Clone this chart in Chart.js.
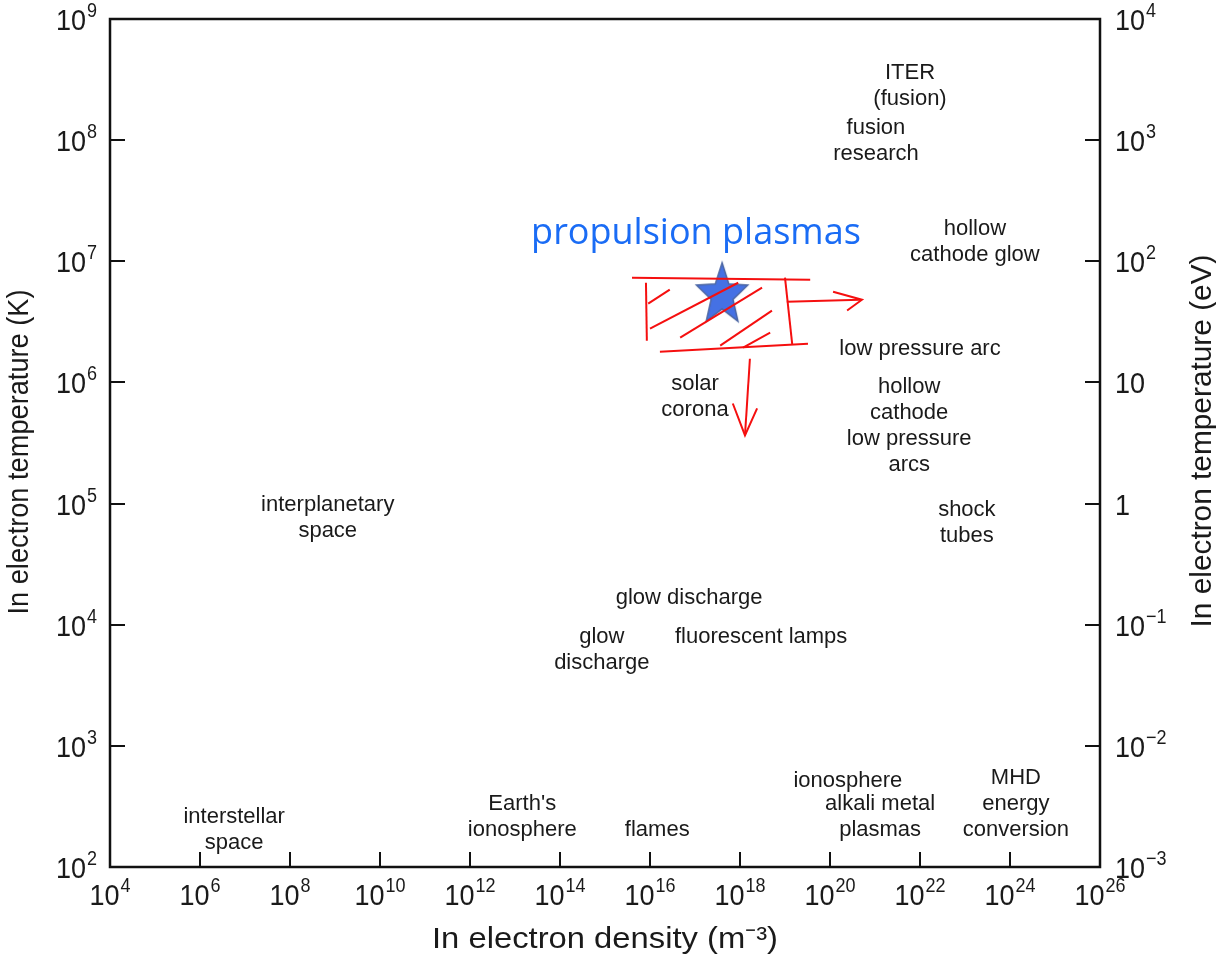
<!DOCTYPE html>
<html>
<head>
<meta charset="utf-8">
<script src="https://cdn.jsdelivr.net/npm/chart.js@4.4.1/dist/chart.umd.min.js"></script>
<style>
  html, body { margin: 0; padding: 0; background: #fff; }
  #wrap { width: 1216px; height: 957px; position: relative; }
</style>
</head>
<body>
<div id="wrap"><canvas id="plasmaChart"></canvas></div>
<script>
// tick positions (powers of ten)
const densityTicks = [1e4, 1e6, 1e8, 1e10, 1e12, 1e14, 1e16, 1e18, 1e20, 1e22, 1e24, 1e26];
const tempTicksK = [1e2, 1e3, 1e4, 1e5, 1e6, 1e7, 1e8, 1e9];
const tempTicksEV = [1e-3, 1e-2, 1e-1, 1, 1e1, 1e2, 1e3, 1e4];

// plasma regions: text lines, density (m^-3), temperature (K) of the text centre
const plasmaNames = [
  ['ITER', '(fusion)'],
  ['fusion', 'research'],
  ['hollow', 'cathode glow'],
  ['low pressure arc'],
  ['solar', 'corona'],
  ['hollow', 'cathode', 'low pressure', 'arcs'],
  ['interplanetary', 'space'],
  ['shock', 'tubes'],
  ['glow discharge'],
  ['glow', 'discharge'],
  ['fluorescent lamps'],
  ['ionosphere'],
  ['alkali metal', 'plasmas'],
  ['MHD', 'energy', 'conversion'],
  ["Earth's", 'ionosphere'],
  ['flames'],
  ['interstellar', 'space']
];
const plasmaDensity = [6.0e21, 1.05e21, 1.66e23, 1.0e22, 1.0e17, 5.75e21, 6.9e8, 1.1e23,
  7.4e16, 8.5e14, 2.95e18, 2.5e20, 1.3e21, 1.35e24, 1.45e13, 1.45e16, 5.75e6];
const plasmaTemp = [2.8e8, 9.8e7, 1.45e7, 1.9e6, 7.6e5, 4.4e5, 7.6e4, 6.9e4,
  1.66e4, 6.2e3, 7.9e3, 513, 257, 331, 257, 204, 204];

// propulsion plasmas marker
const propulsionLabel = 'propulsion plasmas';
const propulsionLabelDensity = 1.05e17;
const propulsionLabelTemp = 1.7e7;
const starDensity = [4.0e17];
const starTemp = [5.25e6];

// hand drawn red region, each stroke is a list of [density, temperature]
const redStrokes = [
  [[3.98e15, 7.33e6], [3.63e19, 7.05e6]],
  [[8.13e15, 6.65e6], [8.51e15, 2.21e6]],
  [[1.66e16, 1.79e6], [3.24e19, 2.09e6]],
  [[1.0e19, 7.33e6], [1.45e19, 2.05e6]],
  [[1.1e19, 4.63e6], [4.68e20, 4.82e6]],
  [[1.17e20, 5.61e6], [5.13e20, 4.82e6], [2.4e20, 3.92e6]],
  [[1.66e18, 1.57e6], [1.29e18, 3.65e5]],
  [[6.92e17, 6.7e5], [1.29e18, 3.65e5], [2.4e18, 6.1e5]],
  [[9.12e15, 4.47e6], [2.75e16, 5.83e6]],
  [[1.0e16, 2.78e6], [9.12e17, 6.65e6]],
  [[4.68e16, 2.34e6], [3.09e18, 6.05e6]],
  [[3.63e17, 2.01e6], [5.13e18, 3.92e6]],
  [[1.17e18, 1.94e6], [4.68e18, 2.58e6]]
];

const FONT = '"Liberation Sans", Arial, Helvetica, sans-serif';
const INK = '#1a1a1a';

function makeStar() {
  const c = document.createElement('canvas');
  c.width = 60;
  c.height = 70;
  const g = c.getContext('2d');
  const cx = 30, cy = 35, R = 27, r = 11.5, sy = 1.2;
  g.beginPath();
  for (let i = 0; i < 10; i++) {
    const rad = i % 2 ? r : R;
    const a = -Math.PI / 2 + i * Math.PI / 5;
    const px = cx + rad * Math.cos(a);
    const py = cy + rad * Math.sin(a) * sy;
    if (i === 0) g.moveTo(px, py); else g.lineTo(px, py);
  }
  g.closePath();
  g.fillStyle = '#4571e4';
  g.fill();
  g.strokeStyle = '#4c67a4';
  g.lineWidth = 1.5;
  g.stroke();
  return c;
}

function powerParts(v, ev) {
  const e = Math.round(Math.log10(v));
  if (ev && e === 0) return ['1', ''];
  if (ev && e === 1) return ['10', ''];
  return ['10', e < 0 ? '\u2212' + (-e) : String(e)];
}

// "10" with a raised exponent, align = left | center | right
function drawPower(ctx, parts, x, baseline, align) {
  const sx = 0.9;
  ctx.font = '30px ' + FONT;
  const wb = ctx.measureText(parts[0]).width * sx;
  ctx.font = '20px ' + FONT;
  const we = parts[1] ? ctx.measureText(parts[1]).width * sx + 1 : 0;
  const total = wb + we;
  let start = x;
  if (align === 'center') start = x - total / 2;
  if (align === 'right') start = x - total;
  ctx.save();
  ctx.fillStyle = INK;
  ctx.textAlign = 'left';
  ctx.textBaseline = 'alphabetic';
  ctx.translate(start, baseline);
  ctx.scale(sx, 1);
  ctx.font = '30px ' + FONT;
  ctx.fillText(parts[0], 0, 0);
  if (parts[1]) {
    ctx.font = '20px ' + FONT;
    ctx.fillText(parts[1], (wb + 1) / sx, -13);
  }
  ctx.restore();
}

function drawFitted(ctx, text, x, y, width, size, rot) {
  ctx.save();
  ctx.font = size + 'px ' + FONT;
  const w = ctx.measureText(text).width;
  ctx.translate(x, y);
  ctx.rotate(rot);
  ctx.scale(width / w, 1);
  ctx.fillStyle = INK;
  ctx.textAlign = 'center';
  ctx.textBaseline = 'middle';
  ctx.fillText(text, 0, 0);
  ctx.restore();
}

const labelPlugin = {
  id: 'plasmaLabels',
  beforeDatasetsDraw(chart) {
    const ctx = chart.ctx;
    const xs = chart.scales.x, ys = chart.scales.y;
    ctx.save();
    ctx.fillStyle = INK;
    ctx.font = '22px ' + FONT;
    ctx.textAlign = 'center';
    ctx.textBaseline = 'middle';
    const lh = 26;
    plasmaNames.forEach((lines, i) => {
      const px = xs.getPixelForValue(plasmaDensity[i]);
      const py = ys.getPixelForValue(plasmaTemp[i]);
      lines.forEach((t, j) => {
        ctx.fillText(t, px, py + (j - (lines.length - 1) / 2) * lh);
      });
    });
    ctx.fillStyle = '#1a6cf5';
    ctx.font = '36px "Open Sans", "Noto Sans", sans-serif';
    ctx.fillText(propulsionLabel, xs.getPixelForValue(propulsionLabelDensity),
      ys.getPixelForValue(propulsionLabelTemp));
    ctx.restore();
  },
  afterDraw(chart) {
    const ctx = chart.ctx;
    const a = chart.chartArea;
    const xs = chart.scales.x, ys = chart.scales.y, ye = chart.scales.y2;
    ctx.save();
    ctx.strokeStyle = '#111';
    ctx.lineWidth = 2;
    ctx.beginPath();
    densityTicks.forEach(v => {
      const px = Math.round(xs.getPixelForValue(v));
      ctx.moveTo(px, a.bottom);
      ctx.lineTo(px, a.bottom - 15);
    });
    tempTicksK.forEach(v => {
      const py = Math.round(ys.getPixelForValue(v));
      ctx.moveTo(a.left, py);
      ctx.lineTo(a.left + 15, py);
    });
    tempTicksEV.forEach(v => {
      const py = Math.round(ye.getPixelForValue(v));
      ctx.moveTo(a.right, py);
      ctx.lineTo(a.right - 15, py);
    });
    ctx.stroke();
    ctx.lineWidth = 2.5;
    ctx.strokeRect(a.left, a.top, a.right - a.left, a.bottom - a.top);
    ctx.restore();

    densityTicks.forEach(v => {
      drawPower(ctx, powerParts(v, false), xs.getPixelForValue(v), a.bottom + 38, 'center');
    });
    tempTicksK.forEach(v => {
      drawPower(ctx, powerParts(v, false), a.left - 13, ys.getPixelForValue(v) + 11, 'right');
    });
    tempTicksEV.forEach(v => {
      drawPower(ctx, powerParts(v, true), a.right + 15, ye.getPixelForValue(v) + 11, 'left');
    });

    drawFitted(ctx, 'In electron density (m\u207B\u00B3)', (a.left + a.right) / 2, 940, 346, 30, 0);
    drawFitted(ctx, 'In electron temperature (K)', 20, 452, 325, 30, -Math.PI / 2);
    drawFitted(ctx, 'In electron temperature (eV)', 1203, 441, 373, 30, -Math.PI / 2);
  }
};

const datasets = redStrokes.map(s => ({
  data: s.map(p => ({ x: p[0], y: p[1] })),
  showLine: true,
  borderColor: '#f50f0f',
  borderWidth: 2,
  pointRadius: 0,
  tension: 0,
  order: 1
}));
datasets.push({
  data: starDensity.map((d, i) => ({ x: d, y: starTemp[i] })),
  pointStyle: makeStar(),
  pointRadius: 30,
  order: 2
});

new Chart(document.getElementById('plasmaChart'), {
  type: 'scatter',
  data: { datasets: datasets },
  options: {
    responsive: true,
    maintainAspectRatio: false,
    animation: false,
    events: [],
    layout: { autoPadding: false, padding: { top: 19, left: 0, right: 0, bottom: 0 } },
    plugins: { legend: { display: false }, tooltip: { enabled: false } },
    scales: {
      x: {
        type: 'logarithmic',
        position: 'bottom',
        min: 1e4,
        max: 1e26,
        grid: { display: false, drawTicks: false },
        border: { display: false },
        ticks: { display: false },
        afterFit: s => { s.height = 90; }
      },
      y: {
        type: 'logarithmic',
        position: 'left',
        min: 1e2,
        max: 1e9,
        grid: { display: false, drawTicks: false },
        border: { display: false },
        ticks: { display: false },
        afterFit: s => { s.width = 110; }
      },
      y2: {
        type: 'logarithmic',
        position: 'right',
        min: 1e-3,
        max: 1e4,
        grid: { display: false, drawTicks: false },
        border: { display: false },
        ticks: { display: false },
        afterFit: s => { s.width = 116; }
      }
    }
  },
  plugins: [labelPlugin]
});
</script>
</body>
</html>
